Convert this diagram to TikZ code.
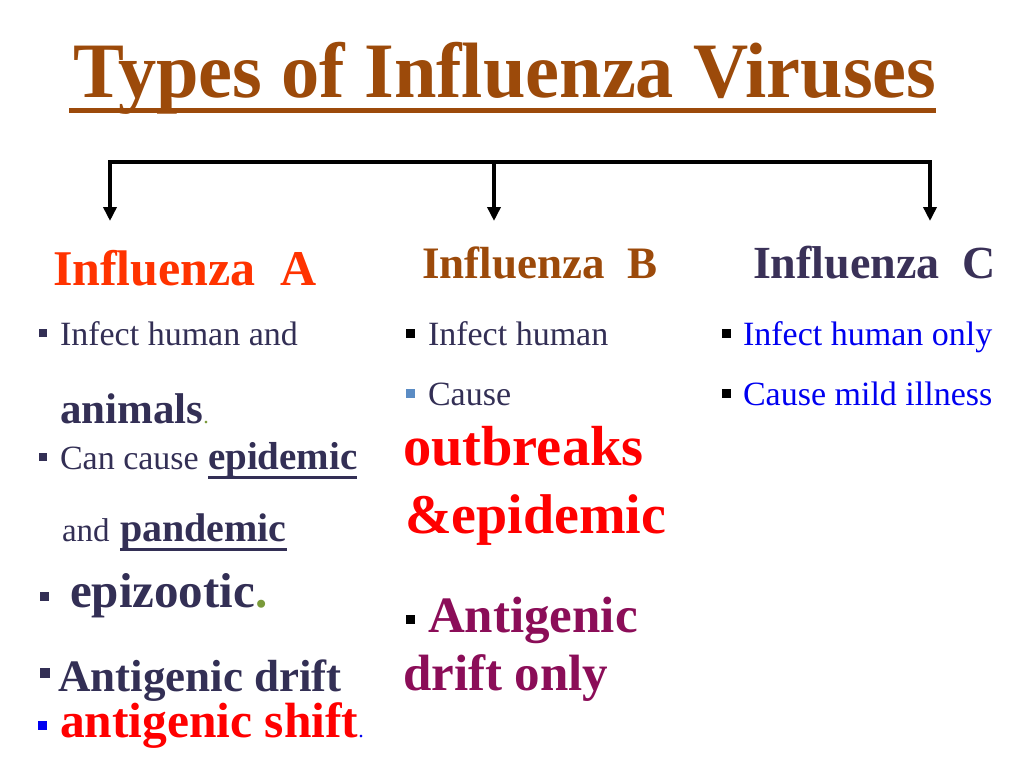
\documentclass[tikz,border=0pt]{standalone}
\usepackage{fontspec}
\setmainfont{Liberation Serif}
\usetikzlibrary{arrows.meta,calc}
\definecolor{titlebrown}{HTML}{9C4A0A}
\definecolor{headA}{HTML}{FF3300}
\definecolor{headC}{HTML}{3A3158}
\definecolor{bodytxt}{HTML}{332F55}
\definecolor{bluetxt}{HTML}{0000F0}
\definecolor{redtxt}{HTML}{FF0000}
\definecolor{purptxt}{HTML}{8B0D58}
\definecolor{lightbul}{HTML}{5B8CC4}
\definecolor{greendot}{HTML}{7A9A3A}
\newcommand{\fs}[1]{\fontsize{#1}{#1}\selectfont}
\tikzset{
  txt/.style={anchor=base west,inner sep=0pt,outer sep=0pt},
  bul/.style={fill=#1,inner sep=0pt,minimum width=9pt,minimum height=9pt,draw=none,rectangle},
  conn/.style={line width=3.8pt,black},
  arr/.style={line width=3.6pt,black,-{Triangle[length=14pt,width=13pt]}},
}
\begin{document}
\begin{tikzpicture}[x=1pt,y=-1pt]
\useasboundingbox[fill=white] (0,0) rectangle (1024,768);
% title
\node[txt,text=titlebrown] (title) at (73,97) {\scalebox{0.973}[1]{\fs{78.5}\bfseries Types of Influenza Viruses}};
\coordinate (ul1) at (69,110);
\coordinate (ul2) at (936,110);
\draw[titlebrown,line width=5pt] (ul1) -- (ul2);
% connectors
\coordinate (h1) at (110,162);
\coordinate (h2) at (494,162);
\coordinate (h3) at (930,162);
\coordinate (e1) at (110,221);
\coordinate (e2) at (494,221);
\coordinate (e3) at (930,221);
\draw[conn,line cap=rect] (h1) -- (h3);
\draw[arr] (h1) -- (e1);
\draw[arr] (h2) -- (e2);
\draw[arr] (h3) -- (e3);
% headings
\node[txt,text=headA] (hA) at (53,285) {\fs{50}\bfseries Influenza\ \ A};
\node[txt,text=titlebrown] (hB) at (422,278) {\fs{45}\bfseries Influenza\ \ B};
\node[txt,text=headC] (hC) at (753,278) {\fs{46}\bfseries Influenza\ \ C};
% column A
\node[bul=bodytxt,minimum width=8pt,minimum height=8pt] (ba1) at (43,333) {};
\node[txt,text=bodytxt] (a1) at (60,345) {\fs{34}Infect human and};
\node[txt,text=bodytxt] (a1b) at (60,423) {\fs{43}\bfseries animals};
\node[txt,text=greendot] (a1p) at (a1b.base east) {\fs{22}.};
\node[bul=bodytxt,minimum width=8pt,minimum height=8pt] (ba2) at (43,457) {};
\node[txt,text=bodytxt] (a2) at (60,469) {\fs{34}Can cause};
\node[txt,text=bodytxt] (a2b) at (208,469) {\fs{39}\bfseries epidemic};
\draw[bodytxt,line width=3pt] ($(a2b.base west)+(0,8)$) -- ($(a2b.base east)+(0,8)$);
\node[txt,text=bodytxt] (a3) at (62,541) {\fs{33}and};
\node[txt,text=bodytxt] (a3b) at (120,541) {\fs{40}\bfseries pandemic};
\draw[bodytxt,line width=3pt] ($(a3b.base west)+(0,8)$) -- ($(a3b.base east)+(0,8)$);
\node[bul=bodytxt] (ba4) at (44,596) {};
\node[txt,text=bodytxt] (a4) at (70,607) {\fs{49}\bfseries epizootic};
\node[txt,text=greendot] (a4p) at (a4.base east) {\fs{49}\bfseries .};
\node[bul=bodytxt,minimum width=10pt,minimum height=10pt] (ba5) at (45,673) {};
\node[txt,text=bodytxt] (a5) at (58,691) {\fs{45}\bfseries Antigenic drift};
\node[bul=bluetxt] (ba6) at (42,725) {};
\node[txt,text=redtxt] (a6) at (60,737) {\fs{49.5}\bfseries antigenic shift};
\node[txt,text=bluetxt] (a6p) at (a6.base east) {\fs{22}.};
% column B
\node[bul=black] (bb1) at (410,333) {};
\node[txt,text=bodytxt] (b1) at (428,345) {\fs{34}Infect human};
\node[bul=lightbul] (bb2) at (410,393) {};
\node[txt,text=bodytxt] (b2) at (428,405) {\fs{34}Cause};
\node[txt,text=redtxt] (b3) at (403,465) {\fs{56.5}\bfseries outbreaks};
\node[txt,text=redtxt] (b4) at (405,533) {\fs{56}\bfseries \&epidemic};
\node[bul=black] (bb5) at (410,619) {};
\node[txt,text=purptxt] (b5) at (428,632) {\fs{51}\bfseries Antigenic};
\node[txt,text=purptxt] (b6) at (403,690) {\fs{51}\bfseries drift only};
% column C
\node[bul=black] (bc1) at (726,333) {};
\node[txt,text=bluetxt] (c1) at (743,345) {\fs{34}Infect human only};
\node[bul=black] (bc2) at (726,393) {};
\node[txt,text=bluetxt] (c2) at (743,405) {\fs{34}Cause mild illness};
\end{tikzpicture}
\end{document}
